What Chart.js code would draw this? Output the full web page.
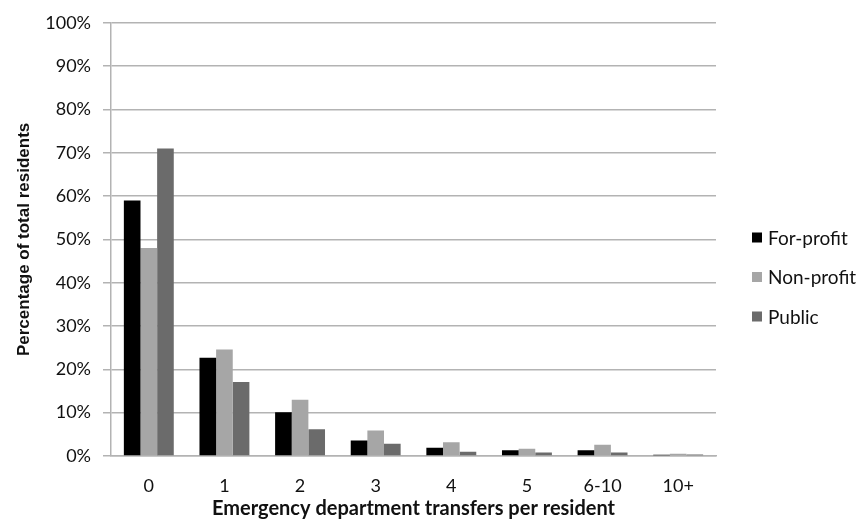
<!DOCTYPE html>
<html>
<head>
<meta charset="utf-8">
<script src="https://cdn.jsdelivr.net/npm/chart.js@4/dist/chart.umd.min.js"></script>
<style>
  html, body { margin: 0; padding: 0; background: #ffffff; }
  #wrap { width: 860px; height: 527px; }
</style>
</head>
<body>
<div id="wrap"><canvas id="chart" width="860" height="527"></canvas></div>
<script>
// Emergency department transfers per resident, by facility ownership
const categories = ['0', '1', '2', '3', '4', '5', '6-10', '10+'];
const seriesNames = ['For-profit', 'Non-profit', 'Public'];
const forProfit = [59, 22.7, 10.1, 3.6, 1.9, 1.3, 1.3, 0.3];
const nonProfit = [48, 24.6, 13.0, 5.9, 3.2, 1.7, 2.6, 0.5];
const publicOwned = [71, 17.1, 6.2, 2.8, 1.0, 0.8, 0.8, 0.35];
const yTicks = [0, 10, 20, 30, 40, 50, 60, 70, 80, 90, 100];

const colors = ['#000000', '#a6a6a6', '#6b6b6b'];
const gridColor = '#b3b3b3';
const textColor = '#111111';

// Legend drawn to the right of the plot, one row per series
const sideLegend = {
  id: 'sideLegend',
  afterDraw(chart) {
    const ctx = chart.ctx;
    const area = chart.chartArea;
    const rowGap = 39.5;
    const x0 = area.right + 36;
    const midY = 277;
    const sets = chart.data.datasets;
    const startY = midY - rowGap * (sets.length - 1) / 2;
    ctx.save();
    ctx.font = '19px Lato';
    ctx.textBaseline = 'middle';
    ctx.textAlign = 'left';
    sets.forEach((ds, i) => {
      const y = startY + i * rowGap;
      ctx.fillStyle = ds.backgroundColor;
      ctx.fillRect(x0, y - 5, 10, 10);
      ctx.fillStyle = textColor;
      ctx.fillText(ds.label, x0 + 16, y + 1);
    });
    ctx.restore();
  }
};

new Chart(document.getElementById('chart'), {
  type: 'bar',
  data: {
    labels: categories,
    datasets: [
      { label: seriesNames[0], data: forProfit, backgroundColor: colors[0] },
      { label: seriesNames[1], data: nonProfit, backgroundColor: colors[1] },
      { label: seriesNames[2], data: publicOwned, backgroundColor: colors[2] }
    ]
  },
  options: {
    responsive: false,
    animation: false,
    devicePixelRatio: 1,
    layout: { padding: { top: 20, right: 144, left: 0, bottom: 0 } },
    datasets: { bar: { categoryPercentage: 0.66, barPercentage: 1.0, borderWidth: 0 } },
    plugins: {
      legend: { display: false },
      tooltip: { enabled: false }
    },
    scales: {
      x: {
        grid: { display: false, drawTicks: false },
        border: { display: true, color: gridColor, width: 1.5 },
        ticks: { color: textColor, font: { family: 'Lato', size: 18 }, padding: 19 },
        title: {
          display: true,
          text: 'Emergency department transfers per resident',
          color: textColor,
          font: { family: 'Lato', size: 20, weight: 'bold' },
          padding: { top: 4, bottom: 6 }
        },
        afterFit(scale) { scale.height = 71; }
      },
      y: {
        min: 0,
        max: 100,
        afterBuildTicks(scale) { scale.ticks = yTicks.map(v => ({ value: v })); },
        grid: { color: gridColor, lineWidth: 1.5, tickLength: 8, drawTicks: true },
        border: { display: true, color: gridColor, width: 1.5 },
        ticks: {
          color: textColor,
          font: { family: 'Lato', size: 18 },
          padding: 12,
          callback: v => v + '%'
        },
        title: {
          display: true,
          text: 'Percentage of total residents',
          color: textColor,
          font: { family: 'Liberation Sans', size: 17, weight: 'bold' },
          padding: { top: 14, bottom: 0 }
        },
        afterFit(scale) { scale.width = 111; }
      }
    }
  },
  plugins: [sideLegend]
});
</script>
</body>
</html>
